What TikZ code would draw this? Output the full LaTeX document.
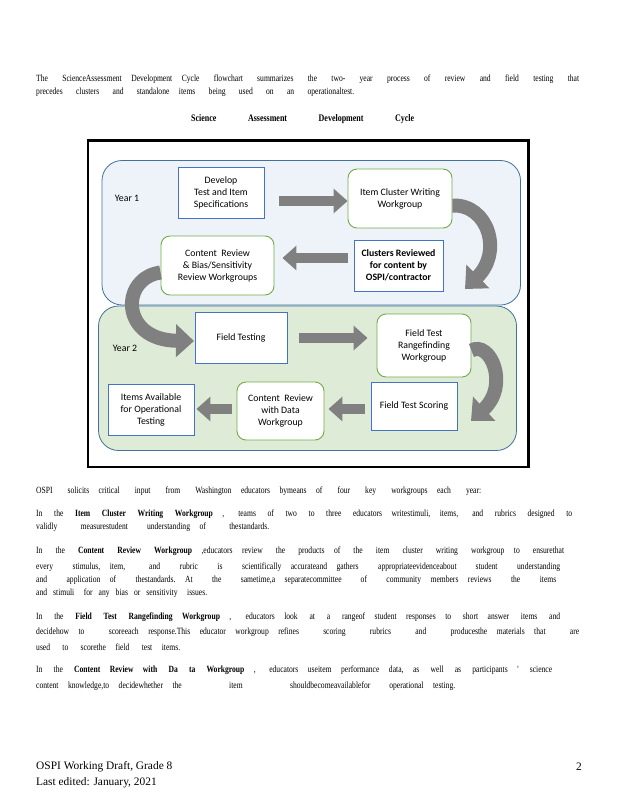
\documentclass[tikz,border=0pt]{standalone}
\usepackage{fontspec}
\setmainfont{Liberation Serif}
\newfontfamily\bodyfont{Liberation Serif}[FakeStretch=0.8]
\newfontfamily\diafont{Carlito}
\usetikzlibrary{arrows.meta}
\definecolor{boxblue}{HTML}{4472C4}
\definecolor{boxgreen}{HTML}{70AD47}
\definecolor{arrowgray}{HTML}{808080}
\definecolor{yearonefill}{HTML}{EEF3FA}
\definecolor{yeartwofill}{HTML}{DEEBD7}
\definecolor{yearborder}{HTML}{41719C}
\tikzset{
  ln/.style={anchor=west, inner sep=0pt, font=\bodyfont\fontsize{9.5}{11}\selectfont},
  bluebox/.style={draw=boxblue, line width=0.9pt, fill=white, align=center, inner sep=0pt,
    font=\diafont\fontsize{9.8}{12}\selectfont},
  greenbox/.style={draw=boxgreen, line width=0.9pt, fill=white, rounded corners=9pt, align=center, inner sep=0pt,
    font=\diafont\fontsize{9.8}{12}\selectfont},
  yearlabel/.style={font=\diafont\fontsize{9.8}{11}\selectfont, inner sep=0pt},
  blockarrow/.style={draw=arrowgray, line width=10.5pt, -{Triangle[length=14pt,width=24pt]}},
  curvearrow/.style={draw=arrowgray, line width=14pt, -{Triangle[length=18pt,width=32pt]}},
}
\begin{document}
\begin{tikzpicture}[x=1pt,y=-1pt]
\useasboundingbox (0,0) rectangle (618,800);
\fill[white] (0,0) rectangle (618,800);

% intro text
\node[ln] (t1) at (36,79) {\makebox[543pt][s]{The ScienceAssessment\quad Development\quad Cycle flowchart summarizes the two- year process of review and field testing that}};
\node[ln] (t2) at (36,92) {\makebox[318pt][s]{precedes clusters and standalone\quad items being used on an operationaltest.}};
\node[ln, font=\bodyfont\bfseries\fontsize{10}{12}\selectfont] (title) at (191,119) {\makebox[223pt][s]{Science \quad Assessment \quad Development \quad Cycle}};

% frame and year panels
\draw[line width=2.5pt] (88,140.5) rectangle (528.5,467);
\draw[yearborder, fill=yearonefill, line width=0.8pt, rounded corners=20pt] (102,160.5) rectangle (520.5,305);
\draw[yearborder, fill=yeartwofill, line width=0.8pt, rounded corners=20pt] (98.5,306) rectangle (516.5,450.5);

\node[yearlabel] (y1) at (127,198) {Year 1};
\node[yearlabel] (y2) at (125,348) {Year 2};

% boxes
\node[bluebox, minimum width=86pt, minimum height=51pt] (dev) at (221,192.5) {Develop\\Test and Item\\Specifications};
\node[greenbox, minimum width=104pt, minimum height=59pt] (icw) at (400,198.5) {Item Cluster Writing\\Workgroup};
\node[bluebox, minimum width=89pt, minimum height=51pt, font=\diafont\bfseries\fontsize{9.8}{12}\selectfont] (clu) at (398.5,265.5) {Clusters Reviewed\\for content by\\OSPI/contractor};
\node[greenbox, minimum width=113pt, minimum height=59pt] (cr) at (217.5,265.5) {Content\ \ Review\\\& Bias/Sensitivity\\Review Workgroups};

\node[bluebox, minimum width=92pt, minimum height=51pt] (ft) at (241,337.5) {Field Testing};
\node[greenbox, minimum width=94pt, minimum height=63pt] (rf) at (424,345.5) {Field Test\\Rangefinding\\Workgroup};
\node[bluebox, minimum width=86pt, minimum height=48pt] (sc) at (414,406) {Field Test Scoring};
\node[greenbox, minimum width=87pt, minimum height=58pt] (crd) at (280.5,411) {Content\ \ Review\\with Data\\Workgroup};
\node[bluebox, minimum width=86pt, minimum height=51pt] (ia) at (151,409.5) {Items Available\\for Operational\\Testing};

% straight arrows
\draw[blockarrow, shorten <=15pt] ([yshift=-8.5pt]dev.east) -- ([yshift=-2.5pt]icw.west);
\draw[blockarrow, shorten <=6pt, shorten >=8pt] ([yshift=7.5pt]clu.west) -- ([yshift=7.5pt]cr.east);
\draw[blockarrow, shorten <=12pt, shorten >=9pt] ([yshift=-0.5pt]ft.east) -- ([yshift=7.5pt]rf.west);
\draw[blockarrow, shorten <=6pt, shorten >=4pt] ([yshift=-3pt]sc.west) -- ([yshift=2pt]crd.east);
\draw[blockarrow, shorten <=5pt, shorten >=2pt] ([yshift=2pt]crd.west) -- ([yshift=0.5pt]ia.east);

% curved arrows
\coordinate (c1end) at (465,289);
\coordinate (c2end) at (471,421);
\coordinate (c3end) at (194,341);
\draw[curvearrow] ([yshift=-7pt]icw.east) .. controls (488,204) and (503,252) .. (c1end);
\draw[curvearrow] ([yshift=-5pt]rf.east) .. controls (490,340) and (510,385) .. (c2end);
\draw[curvearrow] ([yshift=-7pt]cr.west) .. controls (120,278) and (120,340) .. (c3end);

% body text
\node[ln] (p1) at (36,491) {\makebox[445pt][s]{OSPI solicits\quad critical input from Washington\quad educators\quad bymeans\quad of four key workgroups\quad each year:}};
\node[ln] (p2a) at (36,514) {\makebox[536pt][s]{In the \textbf{Item Cluster Writing Workgroup}\quad , teams of two to three educators\quad writestimuli,\quad items, and rubrics designed to}};
\node[ln] (p2b) at (36,527) {\makebox[233pt][s]{validly measurestudent\quad\quad understanding\quad of thestandards.}};
\node[ln] (p3a) at (36,551) {\makebox[528pt][s]{In the \textbf{Content Review Workgroup}\quad ,educators\quad review the products\quad of the item cluster writing workgroup\quad to ensurethat}};
\node[ln] (p3b) at (36,567) {\makebox[524pt][s]{every stimulus,\quad item, and rubric is scientifically\quad accurateand\quad gathers appropriateevidenceabout\quad\quad student understanding}};
\node[ln] (p3c) at (36,580) {\makebox[520pt][s]{and application\quad of thestandards.\quad At the sametime,a\quad separatecommittee\quad\quad of community\quad members\quad reviews the items}};
\node[ln] (p3d) at (36,593) {\makebox[171pt][s]{and stimuli\quad for any bias or sensitivity\quad issues.}};
\node[ln] (p4a) at (36,617) {\makebox[524pt][s]{In the \textbf{Field Test Rangefinding\quad Workgroup}\quad , educators\quad look at a rangeof\quad student\quad responses\quad to short\quad answer items and}};
\node[ln] (p4b) at (36,632) {\makebox[543pt][s]{decidehow\quad to scoreeach\quad response.This\quad educator\quad workgroup\quad refines scoring rubrics and producesthe\quad materials\quad that are}};
\node[ln] (p4c) at (36,647) {\makebox[144pt][s]{used to scorethe\quad field test\quad items.}};
\node[ln] (p5a) at (36,670) {\makebox[516pt][s]{In the \textbf{Content\quad Review\quad with Da ta Workgroup}\quad , educators\quad useitem\quad performance\quad data,\quad as well as participants\quad ' science}};
\node[ln] (p5b) at (36,686) {\makebox[419pt][s]{content\quad knowledge,to\quad decidewhether\quad the item shouldbecomeavailablefor\quad\quad operational\quad testing.}};

% footer
\node[anchor=west, inner sep=0pt, font=\fontsize{11.4}{14}\selectfont] (f1) at (36,767) {OSPI Working Draft, Grade 8};
\node[anchor=west, inner sep=0pt, font=\fontsize{11.4}{14}\selectfont] (f2) at (36,783) {Last edited: January, 2021};
\node[anchor=east, inner sep=0pt, font=\fontsize{11.4}{14}\selectfont] (pg) at (582,767) {2};
\end{tikzpicture}
\end{document}
